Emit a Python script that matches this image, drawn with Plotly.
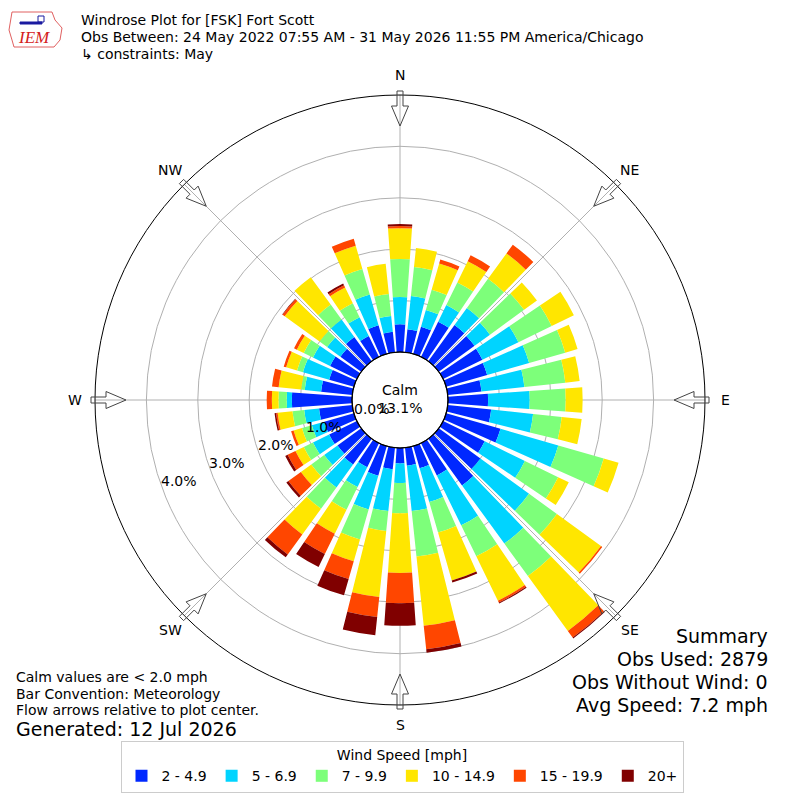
import math
import plotly.graph_objects as go

# 风向（度，气象惯例：北为 0，顺时针）
directions = list(range(0, 360, 10))

# 各风速区间在每个方向上的频率（%）
speed_bins = ["2 - 4.9", "5 - 6.9", "7 - 9.9", "10 - 14.9", "15 - 19.9", "20+"]
bin_colors = ["#0028ff", "#00d4ff", "#7dff7a", "#ffe600", "#ff4600", "#800000"]

pct_2_5 = [0.54, 0.45, 0.55, 0.76, 0.87, 0.86, 0.85, 0.83, 0.66, 0.78, 0.85, 1.10,
           0.90, 1.00, 1.12, 0.70, 0.45, 0.35, 0.30, 0.42, 0.60, 0.52, 0.62, 0.57,
           0.60, 0.60, 0.65, 1.17, 0.61, 0.50, 0.58, 0.50, 0.58, 0.45, 0.58, 0.40]
pct_5_7 = [0.53, 0.65, 0.34, 0.36, 0.41, 0.37, 0.78, 0.85, 0.84, 0.81, 0.82, 1.17,
           0.87, 1.17, 1.40, 1.08, 0.68, 0.89, 0.38, 0.82, 0.68, 0.43, 0.55, 0.32,
           0.35, 0.25, 0.29, 0.10, 0.32, 0.53, 0.37, 0.32, 0.42, 0.41, 0.62, 0.31]
pct_7_10 = [0.74, 0.57, 0.41, 0.49, 0.70, 0.82, 0.72, 0.73, 0.80, 0.70, 0.56, 0.92,
            0.72, 0.67, 0.78, 0.67, 0.62, 0.89, 0.59, 0.39, 0.61, 0.49, 0.51, 0.31,
            0.20, 0.20, 0.23, 0.16, 0.07, 0.12, 0.20, 0.18, 0.36, 0.30, 0.52, 0.43]
pct_10_15 = [0.60, 0.37, 0.53, 0.46, 0.61, 0.31, 0.48, 0.25, 0.28, 0.33, 0.39, 0.30,
             0.23, 1.06, 1.32, 0.96, 0.97, 1.35, 1.16, 1.29, 0.44, 0.52, 0.62, 0.25,
             0.18, 0.17, 0.29, 0.13, 0.44, 0.22, 0.15, 0.84, 0.66, 0.34, 0.47, 0.59]
pct_15_20 = [0.04, 0.00, 0.08, 0.13, 0.21, 0.00, 0.00, 0.00, 0.00, 0.00, 0.00, 0.00,
             0.00, 0.03, 0.16, 0.04, 0.00, 0.46, 0.59, 0.39, 0.36, 0.44, 0.48, 0.30,
             0.17, 0.05, 0.03, 0.10, 0.13, 0.05, 0.06, 0.05, 0.00, 0.05, 0.14, 0.00]
pct_20_up = [0.04, 0.00, 0.00, 0.00, 0.00, 0.00, 0.00, 0.00, 0.00, 0.00, 0.00, 0.00,
             0.00, 0.00, 0.02, 0.02, 0.04, 0.07, 0.44, 0.36, 0.33, 0.28, 0.07, 0.05,
             0.05, 0.00, 0.03, 0.00, 0.00, 0.00, 0.00, 0.01, 0.00, 0.04, 0.00, 0.00]
bin_values = [pct_2_5, pct_5_7, pct_7_10, pct_10_15, pct_15_20, pct_20_up]

ring_ticks = [0, 1, 2, 3, 4]
r_max = 5
calm_pct = 13.1
compass = ["N", "NE", "E", "SE", "S", "SW", "W", "NW"]

title_lines = [
    "Windrose Plot for [FSK] Fort Scott",
    "Obs Between: 24 May 2022 07:55 AM - 31 May 2026 11:55 PM America/Chicago",
    "\u21b3 constraints: May",
]
note_lines = [
    "Calm values are < 2.0 mph",
    "Bar Convention: Meteorology",
    "Flow arrows relative to plot center.",
]
summary_lines = ["Summary", "Obs Used: 2879", "Obs Without Wind: 0", "Avg Speed: 7.2 mph"]

FONT = "DejaVu Sans"
W = H = 800
OFF = 8                 # 页面 body 的默认边距
cx, cy = 400, 400       # 极坐标中心（参考图像素）
R_OUT = 305             # 外圈半径（像素）
R_HOLE = 48             # Calm 圆半径（像素）


def to_paper(px, py):
    # 参考图像素 -> 图纸坐标
    return (px - OFF) / W, 1 - (py - OFF) / H


def polar_px(angle, r):
    a = math.radians(angle)
    return cx + r * math.sin(a), cy - r * math.cos(a)


def text(px, py, s, size, anchor="center", color="black", family=None):
    x, y = to_paper(px, py)
    f = dict(size=size, color=color)
    if family:
        f["family"] = family
    return dict(x=x, y=y, xref="paper", yref="paper", text=s, showarrow=False,
                xanchor=anchor, yanchor="middle", font=f)


fig = go.Figure()
for name, color, vals in zip(speed_bins, bin_colors, bin_values):
    fig.add_trace(go.Barpolar(
        r=vals, theta=directions, width=8, name=name,
        marker=dict(color=color, line=dict(width=0)),
    ))

shapes = []
annotations = []


def path_of(points):
    pts = [to_paper(px, py) for px, py in points]
    return "M " + " L ".join(f"{x:.5f},{y:.5f}" for x, y in pts) + " Z"


# 罗盘方向箭头（空心）和标签
arrow_pts = [(309, -3), (294, -3), (294, -8.5), (274, 0), (294, 8.5), (294, 3), (309, 3)]
for i, lab in enumerate(compass):
    ang = i * 45
    a = math.radians(ang)
    pts = [(cx + r * math.sin(a) + v * math.cos(a), cy - r * math.cos(a) + v * math.sin(a))
           for r, v in arrow_pts]
    shapes.append(dict(type="path", xref="paper", yref="paper", path=path_of(pts),
                       line=dict(color="#444444", width=1),
                       fillcolor="rgba(255,255,255,0)", layer="above"))
    annotations.append(text(*polar_px(ang, 325), lab, 14))

# Calm 圆边界
x0, y0 = to_paper(cx - R_HOLE, cy + R_HOLE)
x1, y1 = to_paper(cx + R_HOLE, cy - R_HOLE)
shapes.append(dict(type="circle", xref="paper", yref="paper", x0=x0, y0=y0, x1=x1, y1=y1,
                   line=dict(color="black", width=1.2), layer="above"))

# 径向刻度标签
for t in ring_ticks:
    r = R_HOLE + (R_OUT - R_HOLE) * t / r_max - 18
    a = math.radians(20.5)
    annotations.append(text(cx - r * math.cos(a), cy + r * math.sin(a) - 2, f"{t:.1f}%", 14))

annotations.append(text(400, 390, "Calm", 14))
annotations.append(text(400, 408, f"{calm_pct}%", 14))

# 标题
for k, line in enumerate(title_lines):
    annotations.append(text(79, 20 + 17 * k, line, 14, anchor="left"))

# IEM 标志（简化）
logo = [(12, 12), (52, 12), (55, 20), (62, 28), (60, 40), (54, 47), (14, 47), (12, 40), (9, 30)]
shapes.append(dict(type="path", xref="paper", yref="paper", path=path_of(logo),
                   line=dict(color="#e06060", width=1), fillcolor="rgba(255,255,255,0)"))
shapes.append(dict(type="path", xref="paper", yref="paper",
                   path=path_of([(20, 22), (42, 22), (42, 24), (20, 24)]),
                   line=dict(color="#1a1aa0", width=1), fillcolor="#1a1aa0"))
shapes.append(dict(type="path", xref="paper", yref="paper",
                   path=path_of([(38, 16), (44, 16), (44, 22), (38, 22)]),
                   line=dict(color="#1a1aa0", width=1), fillcolor="rgba(0,0,0,0)"))
annotations.append(text(34, 38, "<i>IEM</i>", 17, color="#d42020", family="Liberation Serif"))

# 左下角说明
for k, line in enumerate(note_lines):
    annotations.append(text(14, 677 + 16.5 * k, line, 14, anchor="left"))
annotations.append(text(14, 729, "Generated: 12 Jul 2026", 19, anchor="left"))

# 右下角统计
for k, line in enumerate(summary_lines):
    annotations.append(text(770, 636 + 23 * k, line, 19, anchor="right"))

dx0, dy0 = to_paper(cx - R_OUT, cy + R_OUT)
dx1, dy1 = to_paper(cx + R_OUT, cy - R_OUT)
lx, ly = to_paper(402, 741)
fig.update_layout(
    width=W, height=H,
    margin=dict(l=0, r=0, t=0, b=0),
    paper_bgcolor="white",
    font=dict(family=FONT, size=14, color="black"),
    barmode="stack",
    polar=dict(
        domain=dict(x=[dx0, dx1], y=[dy0, dy1]),
        hole=R_HOLE / R_OUT,
        bgcolor="white",
        angularaxis=dict(direction="clockwise", rotation=90, tickmode="array",
                         tickvals=[i * 45 for i in range(8)], showticklabels=False,
                         ticks="", showline=True, linecolor="black", linewidth=1,
                         gridcolor="#b0b0b0", gridwidth=1, layer="above traces"),
        radialaxis=dict(range=[0, r_max], tickvals=ring_ticks[1:], showticklabels=False,
                        ticks="", showline=False, gridcolor="#b0b0b0", gridwidth=1,
                        layer="above traces"),
    ),
    legend=dict(orientation="h", x=lx, xanchor="center", y=ly, yanchor="top",
                title=dict(text="Wind Speed [mph]", side="top center", font=dict(size=14)),
                bordercolor="#cccccc", borderwidth=1, font=dict(size=14),
                entrywidth=0, itemwidth=30),
    shapes=shapes,
    annotations=annotations,
)

fig.write_html("out.html")
